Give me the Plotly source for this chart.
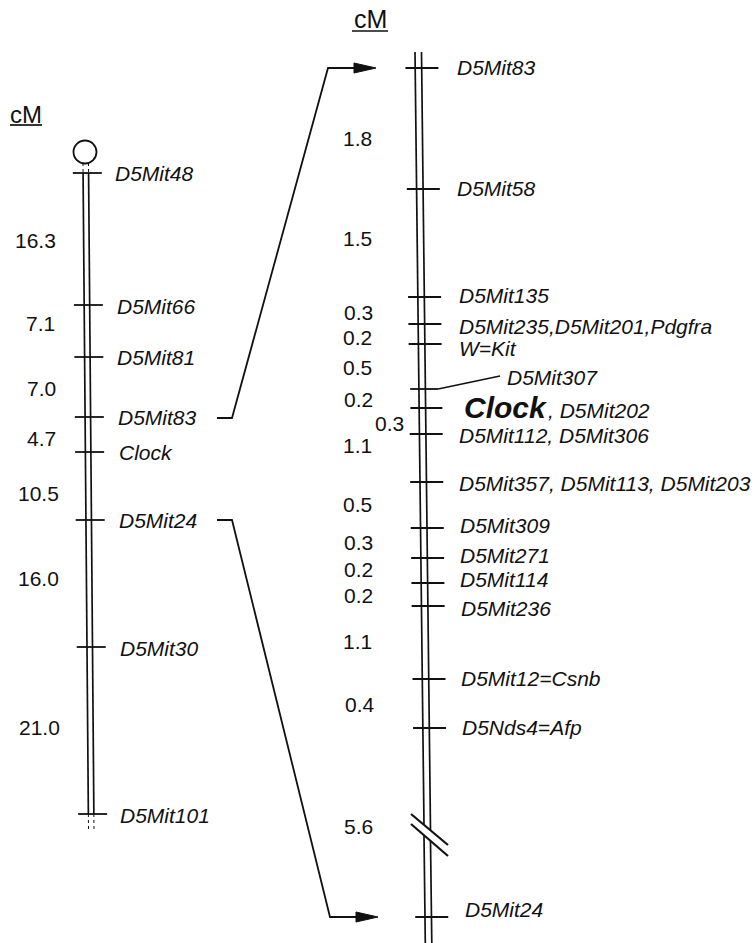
import plotly.graph_objects as go

# ---------------- data ----------------
left_markers = ["D5Mit48", "D5Mit66", "D5Mit81", "D5Mit83", "Clock",
                "D5Mit24", "D5Mit30", "D5Mit101"]
left_intervals = ["16.3", "7.1", "7.0", "4.7", "10.5", "16.0", "21.0"]

right_markers = ["D5Mit83", "D5Mit58", "D5Mit135", "D5Mit235,D5Mit201,Pdgfra",
                 "W=Kit", "D5Mit307", "Clock|, D5Mit202", "D5Mit112, D5Mit306",
                 "D5Mit357, D5Mit113, D5Mit203", "D5Mit309", "D5Mit271",
                 "D5Mit114", "D5Mit236", "D5Mit12=Csnb", "D5Nds4=Afp", "D5Mit24"]
right_intervals = ["1.8", "1.5", "0.3", "0.2", "0.5", "0.2", "0.3", "1.1",
                   "0.5", "0.3", "0.2", "0.2", "1.1", "0.4", "5.6"]

unit_label = "cM"

# ---------------- layout (drawing coordinates) ----------------
W, H = 756, 943
left_tick_y = [173, 305, 357, 417, 452, 520, 647, 814]
left_label_y = [173, 306, 357, 417, 452, 520, 648, 815]
left_label_x = [113, 115, 115, 116, 117, 117, 118, 118]
left_int_y = [240, 323, 388, 438, 493, 578, 727]
left_int_x = [35, 40, 41, 41, 38, 38, 39]

right_tick_y = [68, 189, 297, 324, 344, 389, 408, 434, 482, 528, 558, 583,
                606, 679, 728, 917]
right_label_y = [67, 188, 295, 326, 348, 377, 407, 435, 483, 525, 555, 579,
                 608, 678, 727, 909]
right_label_x = [455, 455, 457, 457, 457, 505, 462, 457, 457, 458, 458, 458,
                 459, 459, 460, 463]
right_int_y = [138, 238, 312, 337, 367, 399, 423, 445, 504, 542, 569, 595,
               641, 704, 826]
right_int_x = [357, 357, 358, 357, 357, 358, 389, 357, 357, 358, 358, 358,
               357, 360, 358]

INK = "#111111"
FONT = "Liberation Sans, Arial, Helvetica, sans-serif"
FS = 21

fig = go.Figure()


def line(x0, y0, x1, y1, w=1.7, dash="solid"):
    fig.add_shape(type="line", xref="x", yref="y", x0=x0, y0=y0, x1=x1, y1=y1,
                  line=dict(color=INK, width=w, dash=dash), layer="above")


def text(x, y, s, size=FS, anchor="left"):
    fig.add_annotation(x=x, y=y, xref="x", yref="y", text=s, showarrow=False,
                       xanchor=anchor, yanchor="middle",
                       font=dict(family=FONT, size=size, color=INK))


# ---- left chromosome ----
def lx(y):
    return 83 + (y - 163) * (5.5 / 667)


gap = 5.5
top_solid, bot_solid = left_tick_y[0], left_tick_y[-1]
for off in (0, gap):
    line(lx(163) + off, 163, lx(top_solid) + off, top_solid, w=1.0, dash="dot")
    line(lx(top_solid) + off, top_solid, lx(bot_solid) + off, bot_solid, w=1.7)
    line(lx(bot_solid) + off, bot_solid, lx(832) + off, 832, w=1.0, dash="dot")

fig.add_shape(type="circle", xref="x", yref="y", x0=73.5, y0=140.5, x1=96.5,
              y1=163.5, line=dict(color=INK, width=1.8), layer="above")

for name, ty, ly, lxp in zip(left_markers, left_tick_y, left_label_y, left_label_x):
    c = lx(ty) + gap / 2
    line(c - 13, ty, c + 16, ty, w=1.8)
    text(lxp, ly, "<i>%s</i>" % name)

for s, y, x in zip(left_intervals, left_int_y, left_int_x):
    text(x, y, s, anchor="center")

text(26, 114, unit_label, size=24, anchor="center")
line(10, 125, 42, 125, w=1.7)


# ---- right chromosome ----
def rx(y):
    return 415 + (y - 52) * (10.0 / 865)


rgap = 6.5
bx0, bx1 = 411, 448
b1 = (814, 845)
b2 = (824, 856)


def diag_y(x, b):
    return b[0] + (x - bx0) / (bx1 - bx0) * (b[1] - b[0])


for off in (0, rgap):
    xa = rx(830) + off
    ya = diag_y(xa, b1)
    yb = diag_y(xa, b2)
    line(rx(52) + off, 52, xa, ya, w=1.7)
    line(xa, yb, rx(943) + off, 943, w=1.7)

line(bx0, b1[0], bx1, b1[1], w=2.2)
line(bx0, b2[0], bx1, b2[1], w=2.2)

for i, (name, ty, ly, lxp) in enumerate(zip(right_markers, right_tick_y,
                                             right_label_y, right_label_x)):
    c = rx(ty) + rgap / 2
    if name == "D5Mit307":
        line(c - 12, ty, c + 16, ty, w=1.8)
        line(c + 16, ty, 500, 376, w=1.6)
        text(lxp, ly, "<i>%s</i>" % name)
    elif "|" in name:
        main, rest = name.split("|")
        line(c - 12, ty, c + 20, ty, w=1.8)
        text(lxp, ly, "<b><i>%s</i></b>" % main, size=30)
        text(546, ly + 3, "<i>%s</i>" % rest)
    else:
        line(c - 13, ty, c + 20, ty, w=1.8)
        text(lxp, ly, "<i>%s</i>" % name)

for s, y, x in zip(right_intervals, right_int_y, right_int_x):
    text(x, y, s, anchor="center")

text(370, 19, unit_label, size=25, anchor="center")
line(352, 31, 388, 31, w=1.7)

# ---- connector arrows ----
up = dict(x=[217, 232, 328, 358], y=[418, 418, 68, 68])
dn = dict(x=[217, 232, 330, 358], y=[520, 520, 917, 917])
for p in (up, dn):
    fig.add_trace(go.Scatter(x=p["x"], y=p["y"], mode="lines",
                             line=dict(color=INK, width=1.8),
                             hoverinfo="skip", showlegend=False))
for tip_x, tip_y in ((376, 68), (378, 917)):
    fig.add_trace(go.Scatter(x=[tip_x - 22, tip_x, tip_x - 22, tip_x - 22],
                             y=[tip_y - 5, tip_y, tip_y + 5, tip_y - 5],
                             mode="lines", fill="toself", fillcolor=INK,
                             line=dict(color=INK, width=1),
                             hoverinfo="skip", showlegend=False))

fig.update_layout(
    width=W, height=H, margin=dict(l=0, r=0, t=0, b=0),
    paper_bgcolor="white", plot_bgcolor="white", showlegend=False,
    xaxis=dict(range=[0, W], visible=False, fixedrange=True),
    yaxis=dict(range=[H, 0], visible=False, fixedrange=True),
)
fig.write_html("out.html", config={"displayModeBar": False},
               post_script="document.body.style.margin='0';"
                           "document.body.style.overflow='hidden';")
